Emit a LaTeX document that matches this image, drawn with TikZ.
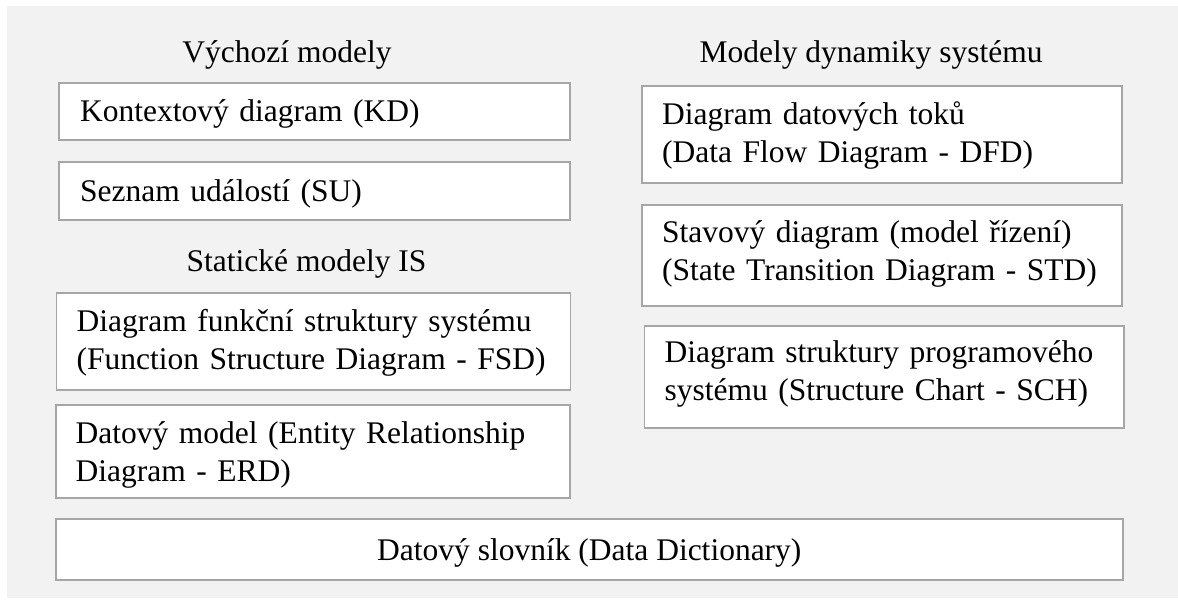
\documentclass[tikz,border=0pt]{standalone}
\usepackage{fontspec}
\setmainfont{LiberationSerif}[Extension=.ttf, UprightFont=*-Regular, BoldFont=*-Bold, ItalicFont=*-Italic]
\definecolor{bggray}{HTML}{F2F2F2}
\definecolor{edgegray}{HTML}{A6A6A6}
\begin{document}
\begin{tikzpicture}[x=1pt,y=-1pt,
  mbox/.style={draw=edgegray, line width=1.6pt, fill=white, rectangle, inner sep=0pt, anchor=north west},
  txt/.style={inner sep=0pt, align=left, text width=470pt, font=\fontsize{31.5}{38}\selectfont, anchor=base west},
  ttl/.style={inner sep=0pt, font=\fontsize{31.5}{38}\selectfont, anchor=base}]
\useasboundingbox (0,0) rectangle (1178,601);
\fill[bggray] (7,6) rectangle (1178,598);

% titles
\node[ttl] (t1) at (287,63) {Výchozí modely};
\node[ttl] (t2) at (306.5,272) {Statické modely IS};
\node[ttl] (t3) at (871,63) {Modely dynamiky systému};

% left column boxes
\node[mbox, minimum width=511pt, minimum height=57pt] (kd) at (58,82) {};
\node[txt] (kdt) at ([shift={(22pt,-40pt)}]kd.north west) {Kontextový diagram (KD)};

\node[mbox, minimum width=511pt, minimum height=58pt] (su) at (58,161) {};
\node[txt] (sut) at ([shift={(22pt,-41pt)}]su.north west) {Seznam událostí (SU)};

\node[mbox, minimum width=514pt, minimum height=97pt] (fsd) at (55.5,292) {};
\node[txt] (fsdt) at ([shift={(21pt,-40pt)}]fsd.north west) {Diagram funkční struktury systému\\(Function Structure Diagram - FSD)};

\node[mbox, minimum width=514pt, minimum height=93pt] (erd) at (55,404) {};
\node[txt] (erdt) at ([shift={(20.5pt,-39pt)}]erd.north west) {Datový model (Entity Relationship\\Diagram - ERD)};

% right column boxes
\node[mbox, minimum width=480pt, minimum height=97pt] (dfd) at (641,85) {};
\node[txt] (dfdt) at ([shift={(21pt,-40pt)}]dfd.north west) {Diagram datových toků\\(Data Flow Diagram - DFD)};

\node[mbox, minimum width=480pt, minimum height=101pt] (std) at (641,204) {};
\node[txt] (stdt) at ([shift={(21pt,-39pt)}]std.north west) {Stavový diagram (model řízení)\\(State Transition Diagram - STD)};

\node[mbox, minimum width=479.5pt, minimum height=102pt] (sch) at (643.5,325) {};
\node[txt] (scht) at ([shift={(21pt,-38pt)}]sch.north west) {Diagram struktury programového\\systému (Structure Chart - SCH)};

% bottom box
\node[mbox, minimum width=1067pt, minimum height=61pt] (dd) at (55,518) {};
\node[ttl] (ddt) at ([yshift=-42pt]dd.north) {Datový slovník (Data Dictionary)};
\end{tikzpicture}
\end{document}
